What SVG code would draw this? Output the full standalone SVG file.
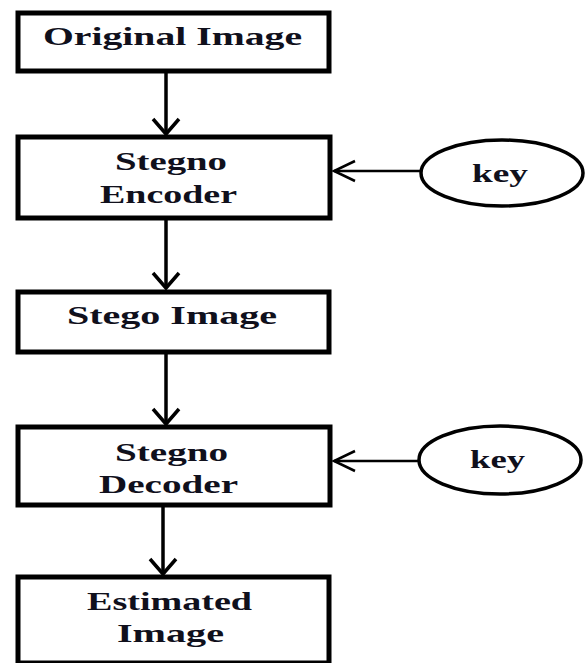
<svg xmlns="http://www.w3.org/2000/svg" width="587" height="663" viewBox="0 0 587 663">
  <style>
    .box { fill: #ffffff; stroke: #000000; stroke-width: 5; }
    .oval { fill: #ffffff; stroke: #000000; stroke-width: 3.5; }
    .label { font-family: "Liberation Serif", "Times New Roman", serif; font-weight: bold; font-size: 26px; fill: #10101c; }
    .flow { stroke: #000000; stroke-width: 3.5; fill: none; }
    .keyline { stroke: #000000; stroke-width: 2.5; fill: none; }
  </style>
  <defs>
    <marker id="openHead" markerUnits="userSpaceOnUse" markerWidth="40" markerHeight="40" refX="0" refY="0" orient="auto" overflow="visible">
      <path d="M-15,-13 L0,0 L-15,13" fill="none" stroke="#000000" stroke-width="3.5"/>
    </marker>
    <marker id="thinHead" markerUnits="userSpaceOnUse" markerWidth="40" markerHeight="40" refX="0" refY="0" orient="auto" overflow="visible">
      <path d="M-21,-10 L0,0 L-21,10" fill="none" stroke="#000000" stroke-width="2.5"/>
    </marker>
  </defs>
  <rect width="587" height="663" fill="#ffffff"/>

  <g id="connectors">
    <line class="flow" x1="166" y1="72" x2="166" y2="134" marker-end="url(#openHead)"/>
    <line class="flow" x1="166" y1="219" x2="166" y2="288" marker-end="url(#openHead)"/>
    <line class="flow" x1="166" y1="354" x2="166" y2="424" marker-end="url(#openHead)"/>
    <line class="flow" x1="163" y1="507" x2="163" y2="574" marker-end="url(#openHead)"/>
    <line class="keyline" x1="421" y1="171" x2="334" y2="171" marker-end="url(#thinHead)"/>
    <line class="keyline" x1="420" y1="461" x2="334" y2="461" marker-end="url(#thinHead)"/>
  </g>

  <g id="original-image">
    <rect class="box" x="18" y="13" width="311" height="58"/>
    <text class="label" x="43" y="45" textLength="259" lengthAdjust="spacingAndGlyphs">Original Image</text>
  </g>

  <g id="stegno-encoder">
    <rect class="box" x="18" y="137" width="312" height="81"/>
    <text class="label" x="115" y="170" textLength="112" lengthAdjust="spacingAndGlyphs">Stegno</text>
    <text class="label" x="100" y="203" textLength="137" lengthAdjust="spacingAndGlyphs">Encoder</text>
  </g>

  <g id="key-encoder">
    <ellipse class="oval" cx="502" cy="173" rx="81" ry="33"/>
    <text class="label" x="472" y="182" textLength="56" lengthAdjust="spacingAndGlyphs">key</text>
  </g>

  <g id="stego-image">
    <rect class="box" x="18" y="292" width="311" height="60"/>
    <text class="label" x="67" y="324" textLength="210" lengthAdjust="spacingAndGlyphs">Stego Image</text>
  </g>

  <g id="stegno-decoder">
    <rect class="box" x="18" y="427" width="312" height="78"/>
    <text class="label" x="115" y="461" textLength="113" lengthAdjust="spacingAndGlyphs">Stegno</text>
    <text class="label" x="99" y="493" textLength="139" lengthAdjust="spacingAndGlyphs">Decoder</text>
  </g>

  <g id="key-decoder">
    <ellipse class="oval" cx="500" cy="460" rx="81" ry="34"/>
    <text class="label" x="470" y="468" textLength="55" lengthAdjust="spacingAndGlyphs">key</text>
  </g>

  <g id="estimated-image">
    <rect class="box" x="18" y="577" width="311" height="86"/>
    <text class="label" x="87" y="610" textLength="165" lengthAdjust="spacingAndGlyphs">Estimated</text>
    <text class="label" x="117" y="642" textLength="107" lengthAdjust="spacingAndGlyphs">Image</text>
  </g>
</svg>
